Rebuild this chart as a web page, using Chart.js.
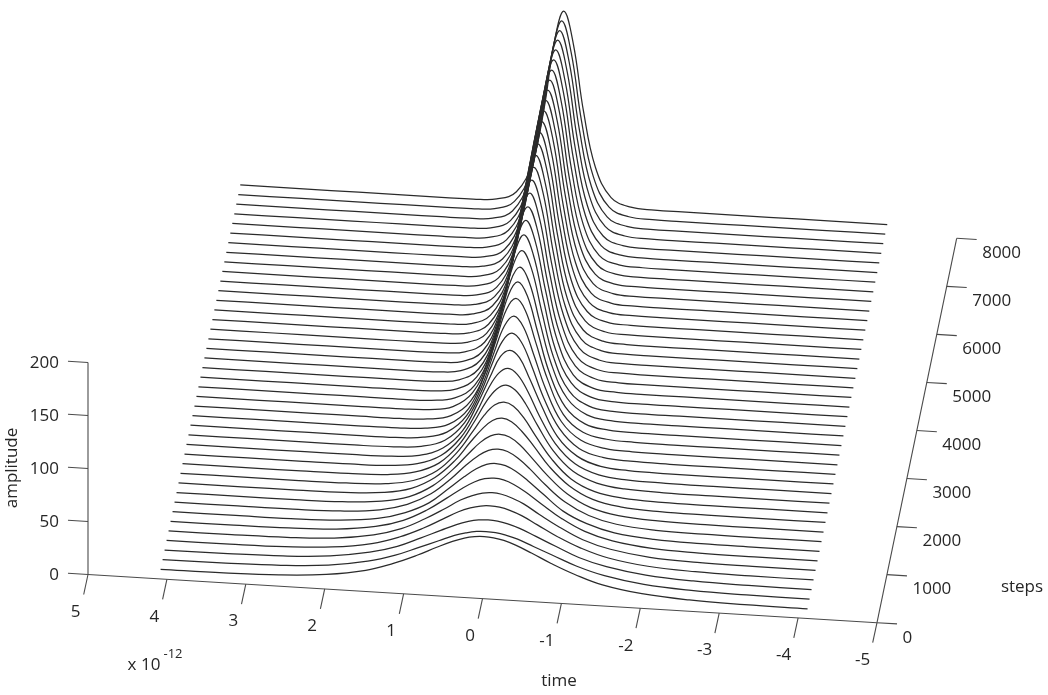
<!DOCTYPE html>
<html>
<head>
<meta charset="utf-8">
<title>amplitude vs time and steps</title>
<script src="https://cdn.jsdelivr.net/npm/chart.js@4"></script>
<style>
  body { margin: 0; background: #fff; }
  canvas { display: block; }
</style>
</head>
<body>
<canvas id="chart" width="1048" height="695"></canvas>
<script>
// Tick labels of the three axes
const timeTicks = [5, 4, 3, 2, 1, 0, -1, -2, -3, -4, -5];
const stepTicks = [0, 1000, 2000, 3000, 4000, 5000, 6000, 7000, 8000];
const ampTicks = [0, 50, 100, 150, 200];

// Curve samples: distance from the pulse centre (x 10^-12), the curves are read as symmetric
const timeOffsets = [0, 0.12, 0.25, 0.4, 0.6, 0.85, 1.15, 1.5, 2, 2.6, 3.3, 4.1];
const stepSpacing = 200;

// Amplitude at timeOffsets, one row per 200 steps
const curveRows = [
  [58.6, 58, 56.1, 52.3, 45.8, 37.1, 28.1, 19.9, 13.8, 10.6, 9.4, 9.1],
  [54.3, 53.8, 52, 48.9, 42.9, 35.5, 26.8, 19.5, 13.5, 10.6, 9.5, 9.1],
  [56.2, 55.6, 53.6, 50, 43.6, 35.4, 26, 18.9, 13.2, 10.4, 9.4, 9.1],
  [60.4, 59.7, 57.3, 53, 45.2, 35.4, 25.8, 18, 12.5, 10.1, 9.3, 9.1],
  [63.7, 62.8, 59.9, 55, 45.9, 35.3, 24.6, 17.2, 11.9, 9.8, 9.2, 9],
  [68.4, 67.3, 63.6, 57.1, 46.8, 34.5, 23.4, 16, 11.2, 9.6, 9.1, 9],
  [73.1, 71.7, 67, 59, 46.8, 32.1, 21.6, 14.5, 10.6, 9.3, 9.1, 9],
  [77.6, 75.9, 70.3, 61.1, 46.7, 31.6, 20.3, 13.6, 10.2, 9.2, 9, 9],
  [82.6, 80.5, 73.8, 62.4, 46.5, 30.3, 18.6, 12.7, 9.9, 9.1, 9, 9],
  [88.7, 85.9, 77.5, 64.4, 45.7, 28.9, 17.3, 11.9, 9.6, 9.1, 9, 9],
  [94.8, 91.5, 81.3, 64.8, 44.2, 26.2, 15.6, 11.1, 9.4, 9, 9, 9],
  [101.8, 97.4, 85.1, 65.6, 42.4, 24.3, 14.6, 10.6, 9.3, 9, 9, 9],
  [108.5, 103.2, 88.1, 65.2, 40.3, 22.4, 13.3, 10.1, 9.2, 9, 9, 9],
  [116.5, 110.1, 90.7, 66, 38, 20.5, 12.2, 9.8, 9.1, 9, 9, 9],
  [123.6, 115.6, 93.8, 64.8, 36.5, 18.7, 11.6, 9.6, 9, 9, 9, 9],
  [130.6, 120.9, 95.6, 64.1, 33.9, 17.3, 11.1, 9.4, 9, 9, 9, 9],
  [138.2, 127.2, 98.1, 63.9, 31.6, 15.8, 10.6, 9.3, 9, 9, 9, 9],
  [144.8, 131.9, 98.6, 60.6, 29.6, 14.7, 10.2, 9.1, 9, 9, 9, 9],
  [149.5, 135.5, 99.6, 59.6, 28.4, 14.1, 10, 9.1, 9, 9, 9, 9],
  [156.1, 139.9, 100.2, 57.5, 26.2, 13.3, 9.7, 9, 9, 9, 9, 9],
  [161.8, 143.5, 100.7, 55.6, 24.9, 12.7, 9.6, 9, 9, 9, 9, 9],
  [166.5, 146.8, 101.1, 54.7, 23.6, 12.2, 9.5, 9, 9, 9, 9, 9],
  [170.3, 149.3, 100.1, 53.4, 23, 11.9, 9.4, 9, 9, 9, 9, 9],
  [174, 151.2, 99.8, 52.7, 22.2, 11.6, 9.4, 9, 9, 9, 9, 9],
  [177.3, 153.1, 99.9, 51.9, 21.6, 11.5, 9.3, 9, 9, 9, 9, 9],
  [180.2, 155.5, 99.7, 50.6, 21, 11.3, 9.3, 9, 9, 9, 9, 9],
  [182.5, 156.5, 100.1, 48.9, 20.5, 11.1, 9.3, 9, 9, 9, 9, 9],
  [184.4, 158.1, 99.3, 48.5, 20, 10.9, 9.3, 9, 9, 9, 9, 9],
  [185.8, 158, 99.2, 47.9, 19.8, 10.9, 9.3, 9, 9, 9, 9, 9],
  [187.2, 159.2, 99, 47.5, 19.3, 10.8, 9.3, 9, 9, 9, 9, 9],
  [188.2, 160.1, 98.6, 47.2, 19, 10.8, 9.2, 9, 9, 9, 9, 9],
  [189.1, 160.3, 99, 46.8, 18.9, 10.7, 9.2, 9, 9, 9, 9, 9],
  [189.6, 160.7, 98.4, 46.6, 18.8, 10.6, 9.2, 9, 9, 9, 9, 9],
  [190, 161, 97.7, 46.1, 18.6, 10.6, 9.2, 9, 9, 9, 9, 9],
  [190.5, 161.1, 97.9, 46.2, 18.4, 10.6, 9.2, 9, 9, 9, 9, 9],
  [191, 161.5, 98.2, 46.3, 18.5, 10.6, 9.2, 9, 9, 9, 9, 9],
  [191.3, 161.7, 98.3, 46.4, 18.5, 10.6, 9.2, 9, 9, 9, 9, 9],
  [191.4, 161.8, 98.4, 46.4, 18.5, 10.6, 9.2, 9, 9, 9, 9, 9],
  [191.5, 161.9, 98.4, 46.4, 18.5, 10.6, 9.2, 9, 9, 9, 9, 9],
  [191.5, 161.9, 98.4, 46.4, 18.5, 10.6, 9.2, 9, 9, 9, 9, 9],
  [191.6, 161.9, 98.4, 46.4, 18.5, 10.6, 9.2, 9, 9, 9, 9, 9]
];

// Fixed 3D view: (time, steps, amplitude) to the page scales
const view = {
  x0: 482.5, y0: 598.6,
  timeX: -78.9, timeY: -4.82,
  stepX: 9.96, stepY: -48.05,
  ampY: -1.06
};
const pulseCentre = -0.02;
const lineColor = '#2b2b2b';
const axisColor = '#4a4a4a';
const textColor = '#262626';
const labelFont = '17px "Open Sans"';

function project(time, steps, amp) {
  return {
    x: view.x0 + view.timeX * time + view.stepX * steps / 1000,
    y: view.y0 + view.timeY * time + view.stepY * steps / 1000 + view.ampY * amp
  };
}

function lineSet(points, color, width) {
  return {
    data: points,
    showLine: true,
    borderColor: color,
    borderWidth: width,
    pointRadius: 0,
    fill: false
  };
}

let datasets = [];

// Waterfall curves, left side mirrored from the right side
curveRows.forEach((row, i) => {
  let steps = i * stepSpacing;
  let points = [];
  for (let j = row.length - 1; j > 0; j--) {
    points.push(project(pulseCentre + timeOffsets[j], steps, row[j]));
  }
  for (let j = 0; j < row.length; j++) {
    points.push(project(pulseCentre - timeOffsets[j], steps, row[j]));
  }
  let set = lineSet(points, lineColor, 1.25);
  set.tension = 0.4;
  datasets.push(set);
});

function offset(p, dx, dy) {
  return { x: p.x + dx, y: p.y + dy };
}

// Axis lines
const lastStep = stepTicks[stepTicks.length - 1];
const lastAmp = ampTicks[ampTicks.length - 1];
datasets.push(lineSet([project(5, 0, 0), project(-5, 0, 0)], axisColor, 1.1));
datasets.push(lineSet([project(-5, 0, 0), project(-5, lastStep, 0)], axisColor, 1.1));
datasets.push(lineSet([project(5, 0, 0), project(5, 0, lastAmp)], axisColor, 1.1));

// Tick marks
timeTicks.forEach(t => {
  let p = project(t, 0, 0);
  datasets.push(lineSet([p, offset(p, -4.3, 20)], axisColor, 1.1));
});
stepTicks.forEach(s => {
  let p = project(-5, s, 0);
  datasets.push(lineSet([p, offset(p, 20, 1.2)], axisColor, 1.1));
});
ampTicks.forEach(a => {
  let p = project(5, 0, a);
  datasets.push(lineSet([p, offset(p, -20, -1.2)], axisColor, 1.1));
});

// Axis text, drawn on the canvas after the lines
const axisText = {
  id: 'axisText',
  afterDraw(chart) {
    const { ctx, scales } = chart;
    const put = (text, p, align, font) => {
      ctx.font = font || labelFont;
      ctx.textAlign = align;
      ctx.fillText(text, scales.x.getPixelForValue(p.x), scales.y.getPixelForValue(p.y));
    };
    ctx.save();
    ctx.fillStyle = textColor;
    ctx.textBaseline = 'middle';

    timeTicks.forEach(t => {
      put(String(t), offset(project(t, 0, 0), t < 0 ? -14.5 : -12.5, 37.5), 'center');
    });
    stepTicks.forEach(s => {
      put(String(s), offset(project(-5, s, 0), 25.5, 15), 'left');
    });
    ampTicks.forEach(a => {
      put(String(a), offset(project(5, 0, a), -29, 0.5), 'right');
    });

    put('time', { x: 559, y: 681 }, 'center');
    put('steps', { x: 1022, y: 587 }, 'center');
    put('x 10', { x: 144, y: 665 }, 'center');
    put('-12', { x: 173, y: 654 }, 'center', '13px "Open Sans"');

    ctx.translate(scales.x.getPixelForValue(12), scales.y.getPixelForValue(468));
    ctx.rotate(-Math.PI / 2);
    ctx.font = labelFont;
    ctx.textAlign = 'center';
    ctx.fillText('amplitude', 0, 0);
    ctx.restore();
  }
};

new Chart(document.getElementById('chart'), {
  type: 'scatter',
  data: { datasets: datasets },
  plugins: [axisText],
  options: {
    responsive: false,
    animation: false,
    layout: { padding: 0 },
    plugins: { legend: { display: false }, tooltip: { enabled: false } },
    scales: {
      x: { type: 'linear', display: false, min: 0, max: 1048 },
      y: { type: 'linear', display: false, min: 0, max: 695, reverse: true }
    }
  }
});
</script>
</body>
</html>
